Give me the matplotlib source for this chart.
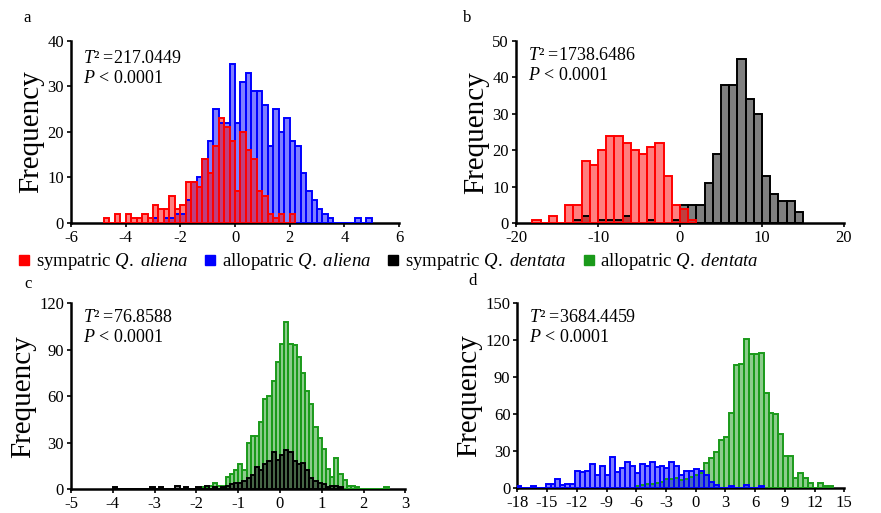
import numpy as np
import matplotlib
matplotlib.use("Agg")
import matplotlib.pyplot as plt
from matplotlib.lines import Line2D

plt.rcParams['font.family'] = ['Liberation Serif', 'DejaVu Serif']
plt.rcParams['mathtext.fontset'] = 'custom'
plt.rcParams['mathtext.rm'] = 'Liberation Serif'
plt.rcParams['mathtext.it'] = 'Liberation Serif:italic'
plt.rcParams['axes.unicode_minus'] = False

# ---- panel a : Q. aliena, bin width 0.2 ----
a_sym_start = -4.8
a_sym = [1, 0, 2, 0, 2, 1, 1, 2, 1, 4, 3, 3, 6, 3, 4, 9, 9, 8, 14, 11, 17, 23,
         21, 18, 7, 20, 16, 14, 7, 6, 2, 1, 2, 0, 2]
a_allo_start = -3.0
a_allo = [1, 0, 1, 1, 2, 2, 5, 9, 10, 14, 18, 25, 22, 22, 35, 22, 31, 33, 29,
          29, 26, 17, 25, 20, 23, 18, 17, 11, 7, 5, 3, 2, 1, 0, 0, 0, 0, 1, 0, 1]

# ---- panel b : Q. dentata, bin width 1 ----
b_sym_start = -13
b_sym = [1, 2, 0, 1, 1, 1, 2, 0, 0, 1, 0, 0, 1, 5, 5, 5, 11, 19, 38, 38, 45,
         34, 30, 13, 8, 6, 6, 3]
b_red_start = -18
b_red = [1, 0, 2, 0, 5, 5, 17, 16, 20, 24, 24, 22, 20, 19, 21, 22, 13, 5, 4, 1]

# ---- panel c : bin width 0.1 ----
c_allo_start = -1.9
c_allo = [1, 1, 2, 4, 2, 2, 8, 10, 12, 16, 12, 30, 34, 34, 43, 58, 60, 70, 82,
          94, 108, 94, 93, 85, 75, 63, 55, 40, 33, 26, 13, 8, 20, 10, 6, 2, 2,
          1, 0, 0, 0, 0, 0, 0, 1]
c_sym_start = -4.0
c_sym = [1, 0, 0, 0, 0, 0, 0, 0, 0, 1, 0, 1, 0, 0, 0, 2, 0, 1, 0, 0, 1, 0, 2,
         0, 1, 0, 1, 2, 3, 4, 4, 5, 7, 9, 14, 12, 16, 18, 24, 19, 22, 25, 24,
         18, 16, 17, 12, 7, 5, 4, 3, 1, 2, 2, 1]

# ---- panel d : bin width 0.5 ----
d_blue_start = -18.15
d_blue = [1, 0, 0, 1, 0, 0, 3, 3, 7, 2, 3, 3, 14, 13, 14, 19, 10, 18, 10, 25,
          13, 16, 21, 18, 12, 19, 18, 21, 17, 18, 16, 21, 18, 10, 14, 14, 15,
          14, 10, 5, 2, 0, 0, 1, 0, 0, 2, 0, 0, 1]
d_green_start = -6.15
d_green = [1, 2, 3, 3, 4, 5, 7, 7, 8, 6, 7, 9, 10, 12, 20, 24, 29, 39, 41, 61,
           100, 101, 121, 109, 109, 110, 77, 61, 60, 44, 26, 26, 8, 12, 8, 4,
           0, 4, 1, 1]

RED = '#ff0000'
BLUE = '#0000ff'
BLACK = '#000000'
GREEN = '#1a9a1a'


def hist(ax, start, width, counts, edge, face, alpha):
    x = start + width * np.arange(len(counts))
    ax.bar(x, counts, width=width, align='edge', color=face, alpha=alpha,
           edgecolor='none', zorder=2)
    ax.bar(x, counts, width=width, align='edge', facecolor='none',
           edgecolor=edge, linewidth=1.4, zorder=3)


def style(ax, xlim, ylim, xt, yt):
    ax.set_xlim(xlim)
    ax.set_ylim(ylim)
    ax.set_xticks(xt)
    ax.set_yticks(yt)
    for s in ['top', 'right']:
        ax.spines[s].set_visible(False)
    for s in ['left', 'bottom']:
        ax.spines[s].set_linewidth(1.8)
    ax.tick_params(direction='out', length=3, width=1.2, labelsize=12, pad=2)
    ax.set_ylabel('Frequency', fontsize=21, labelpad=2)


fig = plt.figure(figsize=(8.81, 5.13), dpi=100)

axa = fig.add_axes([0.0806, 0.5653, 0.3723, 0.3548])
hist(axa, a_allo_start, 0.2, a_allo, BLUE, BLUE, 0.5)
hist(axa, a_sym_start, 0.2, a_sym, RED, RED, 0.5)
style(axa, (-6, 6), (0, 40), [-6, -4, -2, 0, 2, 4, 6], [0, 10, 20, 30, 40])
axa.text(0.037, 0.95, '$T$² =217.0449\n$P$ < 0.0001', transform=axa.transAxes,
         fontsize=13, va='top', ha='left', linespacing=1.25)

axb = fig.add_axes([0.5857, 0.5647, 0.3723, 0.3553])
hist(axb, b_sym_start, 1, b_sym, BLACK, '#000000', 0.5)
hist(axb, b_red_start, 1, b_red, RED, RED, 0.5)
style(axb, (-20, 20), (0, 50), [-20, -10, 0, 10, 20], [0, 10, 20, 30, 40, 50])
axb.text(0.037, 0.97, '$T$² =1738.6486\n$P$ < 0.0001', transform=axb.transAxes,
         fontsize=13, va='top', ha='left', linespacing=1.25)

axc = fig.add_axes([0.0806, 0.0468, 0.3795, 0.362])
hist(axc, c_allo_start, 0.1, c_allo, GREEN, GREEN, 0.5)
hist(axc, c_sym_start, 0.1, c_sym, BLACK, '#000000', 0.5)
style(axc, (-5, 3), (0, 120), list(range(-5, 4)), [0, 30, 60, 90, 120])
axc.text(0.037, 0.97, '$T$² =76.8588\n$P$ < 0.0001', transform=axc.transAxes,
         fontsize=13, va='top', ha='left', linespacing=1.25)

axd = fig.add_axes([0.5872, 0.0493, 0.3712, 0.3594])
hist(axd, d_green_start, 0.5, d_green, GREEN, GREEN, 0.5)
hist(axd, d_blue_start, 0.5, d_blue, BLUE, BLUE, 0.5)
style(axd, (-18, 15), (0, 150), list(range(-18, 16, 3)), [0, 30, 60, 90, 120, 150])
axd.text(0.037, 0.97, '$T$² =3684.4459\n$P$ < 0.0001', transform=axd.transAxes,
         fontsize=13, va='top', ha='left', linespacing=1.25)

for lab, x, y in [('a', 0.031, 0.965), ('b', 0.530, 0.965),
                  ('c', 0.032, 0.447), ('d', 0.536, 0.452)]:
    fig.text(x, y, lab, fontsize=12, ha='center', va='center')

handles = [Line2D([], [], marker='s', ls='', color=c, markersize=7)
           for c in [RED, BLUE, BLACK, '#1a9a1a']]
labels = [r'sympatric $Q.\ aliena$', r'allopatric $Q.\ aliena$',
          r'sympatric $Q.\ dentata$', r'allopatric $Q.\ dentata$']
fig.legend(handles, labels, loc='center', bbox_to_anchor=(0.44, 0.49), ncol=4,
           frameon=False, fontsize=13.5, handletextpad=0.2, columnspacing=0.8,
           handlelength=0.8, borderpad=0)

fig.savefig('out.png', dpi=100)
